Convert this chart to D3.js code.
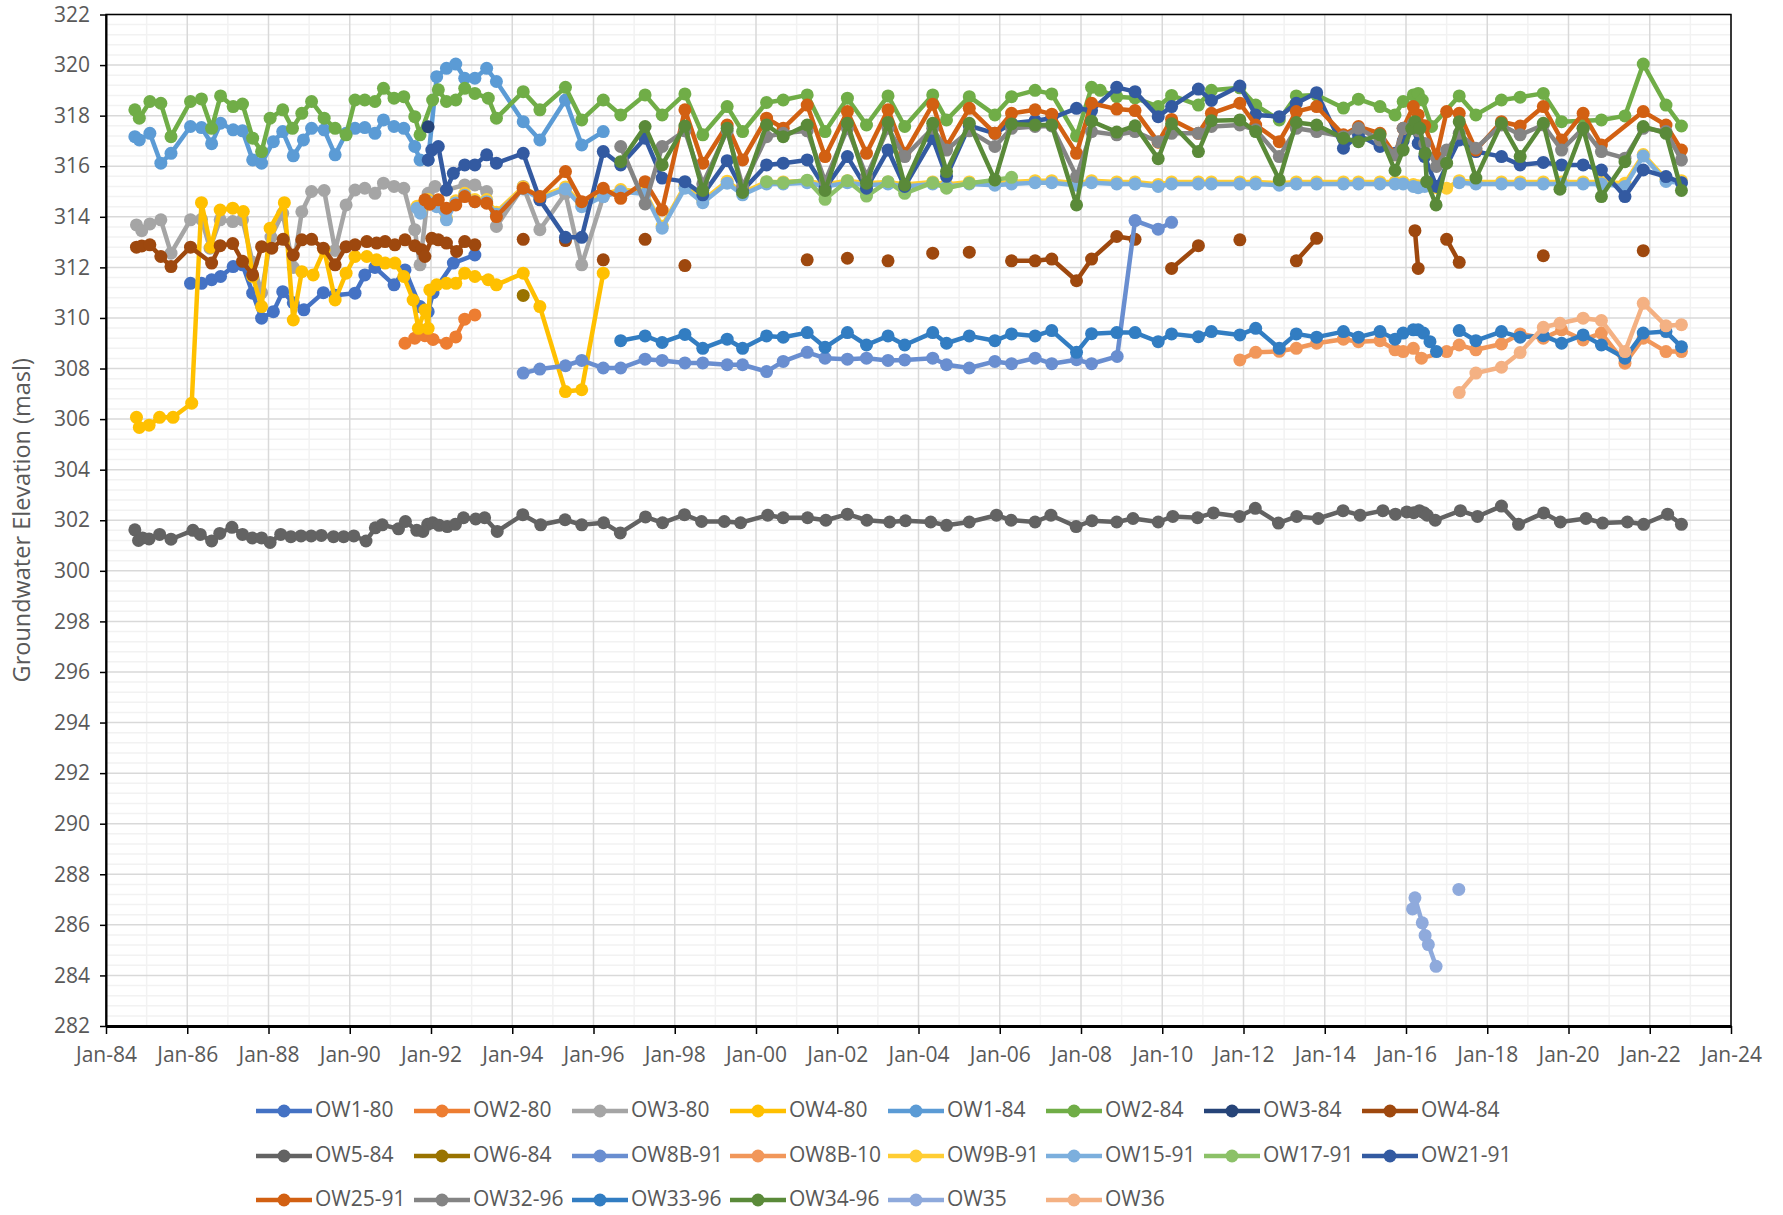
<!DOCTYPE html>
<html>
<head>
<meta charset="utf-8">
<script src="https://cdn.jsdelivr.net/npm/d3@7"></script>
<style>
  body { margin: 0; background: #fff; }
  text { font-family: "Open Sans", sans-serif; fill: #595959; }
</style>
</head>
<body>
<svg id="chart"></svg>
<script>
// values: [decimal year, masl]; null value = gap in the line
const ow1_80 = [[1986.08,311.37],[1986.35,311.37],[1986.60,311.51],[1986.82,311.64],[1987.13,312.03],[1987.36,312.1],[1987.61,310.98],[1987.83,309.99],[1988.12,310.25],[1988.35,311.04],[1988.61,310.6],[1988.87,310.32],[1989.35,311.0],[1989.64,310.9],[1990.13,310.98],[1990.37,311.70],[1990.62,312.0],[1991.09,311.31],[1991.36,311.9],[1991.73,310.45],[1991.93,310.25],[1992.05,311.0],[1992.55,312.17],[1993.08,312.49]]
const ow2_80 = [[1991.36,309.0],[1991.60,309.2],[1991.85,309.3],[1992.05,309.15],[1992.38,309.0],[1992.61,309.25],[1992.83,309.95],[1993.08,310.12]]
const ow3_80 = [[1984.75,313.68],[1984.88,313.45],[1985.08,313.72],[1985.35,313.88],[1985.60,312.56],[1986.08,313.88],[1986.35,313.9],[1986.56,312.76],[1986.81,313.88],[1987.12,313.81],[1987.36,313.88],[1987.61,312.2],[1987.83,311.0],[1988.06,313.2],[1988.35,314.14],[1988.61,312.0],[1988.82,314.2],[1989.06,315.0],[1989.37,315.04],[1989.64,312.67],[1989.91,314.47],[1990.13,315.06],[1990.37,315.13],[1990.62,314.93],[1990.83,315.33],[1991.09,315.20],[1991.33,315.13],[1991.60,313.49],[1991.73,312.10],[1991.93,314.93],[1992.10,315.20],[1992.38,315.06],[1992.83,315.26],[1993.08,315.26],[1993.37,315.0],[1993.61,313.62],[1994.27,315.2],[1994.68,313.49],[1995.31,314.93],[1995.71,312.10],[1996.24,314.8]]
const ow4_80 = [[1984.75,306.07],[1984.82,305.67],[1985.06,305.76],[1985.32,306.07],[1985.65,306.07],[1986.11,306.63],[1986.35,314.56],[1986.58,312.8],[1986.81,314.27],[1987.12,314.34],[1987.38,314.21],[1987.61,311.64],[1987.83,310.45],[1988.04,313.55],[1988.39,314.56],[1988.61,309.92],[1988.82,311.83],[1989.10,311.70],[1989.37,312.69],[1989.64,310.71],[1989.91,311.77],[1990.13,312.43],[1990.42,312.43],[1990.66,312.30],[1990.87,312.17],[1991.11,312.17],[1991.33,311.64],[1991.56,310.71],[1991.69,309.59],[1991.85,310.31],[1991.93,309.59],[1991.97,311.11],[1992.14,311.31],[1992.38,311.37],[1992.61,311.37],[1992.83,311.77],[1993.08,311.64],[1993.41,311.51],[1993.61,311.31],[1994.27,311.77],[1994.68,310.45],[1995.31,307.09],[1995.71,307.16],[1996.24,311.77]]
const ow1_84 = [[1984.71,317.17],[1984.82,317.04],[1985.08,317.30],[1985.35,316.12],[1985.60,316.51],[1986.08,317.57],[1986.35,317.53],[1986.60,316.89],[1986.82,317.70],[1987.13,317.44],[1987.36,317.40],[1987.61,316.25],[1987.83,316.12],[1988.12,316.97],[1988.35,317.37],[1988.61,316.41],[1988.86,317.04],[1989.06,317.50],[1989.37,317.44],[1989.64,316.45],[1989.91,317.30],[1990.13,317.50],[1990.37,317.53],[1990.62,317.30],[1990.83,317.83],[1991.09,317.57],[1991.33,317.50],[1991.60,316.78],[1991.73,316.25],[1991.93,316.25],[1992.14,319.54],[1992.38,319.87],[1992.61,320.04],[1992.83,319.48],[1993.08,319.48],[1993.37,319.87],[1993.61,319.35],[1994.27,317.76],[1994.68,317.04],[1995.31,318.62],[1995.71,316.84],[1996.24,317.37]]
const ow2_84 = [[1984.71,318.23],[1984.82,317.90],[1985.08,318.56],[1985.35,318.49],[1985.60,317.17],[1986.08,318.56],[1986.35,318.66],[1986.60,317.50],[1986.82,318.78],[1987.13,318.36],[1987.36,318.46],[1987.61,317.11],[1987.83,316.58],[1988.04,317.90],[1988.35,318.23],[1988.59,317.50],[1988.82,318.09],[1989.06,318.56],[1989.37,317.90],[1989.64,317.50],[1989.91,317.24],[1990.13,318.62],[1990.37,318.62],[1990.62,318.56],[1990.83,319.08],[1991.09,318.69],[1991.33,318.75],[1991.60,317.96],[1991.73,317.24],[1992.04,318.62],[1992.18,319.02],[1992.38,318.56],[1992.61,318.62],[1992.83,319.08],[1993.08,318.88],[1993.41,318.69],[1993.61,317.90],[1994.27,318.95],[1994.68,318.23],[1995.31,319.12],[1995.71,317.83],[1996.24,318.62],[1996.67,318.03],[1997.27,318.82],[1997.69,318.03],[1998.25,318.86],[1998.69,317.24],[1999.29,318.36],[1999.67,317.37],[2000.26,318.52],[2000.67,318.62],[2001.26,318.82],[2001.70,317.37],[2002.25,318.69],[2002.72,317.63],[2003.25,318.78],[2003.66,317.57],[2004.35,318.82],[2004.69,317.83],[2005.25,318.75],[2005.88,318.03],[2006.29,318.75],[2006.87,319.0],[2007.28,318.86],[2007.89,317.2],[2008.26,319.12],[2008.47,319.0],[2008.88,318.75],[2009.33,318.7],[2009.90,318.36],[2010.23,318.8],[2010.89,318.42],[2011.21,319.0],[2011.91,319.1],[2012.30,318.42],[2012.88,317.83],[2013.30,318.78],[2013.80,318.82],[2014.46,318.3],[2014.83,318.65],[2015.36,318.36],[2015.73,318.03],[2015.93,318.56],[2016.18,318.82],[2016.30,318.88],[2016.40,318.62],[2016.63,317.57],[2017.31,318.78],[2017.72,318.03],[2018.35,318.62],[2018.81,318.73],[2019.38,318.88],[2019.83,317.76],[2020.81,317.83],[2021.39,317.99],[2021.84,320.04],[2022.40,318.42],[2022.78,317.59]]
const ow3_84 = [[1991.93,317.56]]
const ow4_84 = [[1984.75,312.80],[1984.88,312.85],[1985.08,312.89],[1985.35,312.43],[1985.60,312.03],[1986.08,312.80],[1986.60,312.17],[1986.81,312.86],[1987.12,312.94],[1987.36,312.24],[1987.61,311.70],[1987.83,312.82],[1988.08,312.76],[1988.36,313.11],[1988.61,312.49],[1988.82,313.09],[1989.06,313.11],[1989.35,312.76],[1989.64,312.10],[1989.91,312.82],[1990.13,312.89],[1990.42,313.02],[1990.66,312.96],[1990.87,313.02],[1991.11,312.89],[1991.36,313.09],[1991.60,312.86],[1991.77,312.70],[1991.85,312.43],[1992.02,313.15],[1992.18,313.09],[1992.38,312.96],[1992.63,312.63],[1992.83,313.02],[1993.08,312.89],[1993.7,null],[1994.27,313.11],[1994.7,null],[1995.31,313.06],[1995.7,null],[1996.24,312.30],[1996.7,null],[1997.27,313.11],[1997.7,null],[1998.25,312.07],[1998.7,null],[2001.26,312.30],[2001.7,null],[2002.25,312.36],[2002.7,null],[2003.25,312.26],[2003.7,null],[2004.35,312.56],[2004.7,null],[2005.25,312.60],[2005.9,null],[2006.29,312.26],[2006.87,312.26],[2007.28,312.33],[2007.89,311.47],[2008.26,312.33],[2008.88,313.22],[2009.33,313.11],[2009.9,null],[2010.23,311.96],[2010.89,312.86],[2011.2,null],[2011.91,313.09],[2012.3,null],[2013.30,312.26],[2013.80,313.15],[2014.5,null],[2016.22,313.45],[2016.30,311.96],[2016.7,null],[2017.00,313.11],[2017.31,312.20],[2017.7,null],[2019.38,312.46],[2019.8,null],[2021.84,312.66]]
const ow5_84 = [[1984.71,301.62],[1984.8,301.2],[1984.9,301.3],[1985.06,301.26],[1985.32,301.44],[1985.6,301.25],[1986.14,301.6],[1986.32,301.44],[1986.6,301.18],[1986.8,301.48],[1987.1,301.72],[1987.36,301.44],[1987.6,301.3],[1987.83,301.3],[1988.04,301.12],[1988.3,301.44],[1988.55,301.35],[1988.8,301.38],[1989.05,301.38],[1989.3,301.4],[1989.6,301.35],[1989.85,301.35],[1990.1,301.38],[1990.4,301.18],[1990.63,301.7],[1990.8,301.82],[1991.2,301.66],[1991.37,301.95],[1991.65,301.6],[1991.8,301.56],[1991.92,301.84],[1992.04,301.9],[1992.2,301.8],[1992.4,301.75],[1992.6,301.84],[1992.8,302.1],[1993.1,302.05],[1993.32,302.1],[1993.63,301.56],[1994.26,302.22],[1994.7,301.82],[1995.3,302.02],[1995.71,301.82],[1996.25,301.9],[1996.66,301.5],[1997.28,302.13],[1997.7,301.9],[1998.24,302.22],[1998.66,301.95],[1999.22,301.95],[1999.62,301.9],[2000.29,302.2],[2000.67,302.1],[2001.27,302.1],[2001.72,302.0],[2002.25,302.24],[2002.73,302.0],[2003.29,301.93],[2003.68,301.98],[2004.3,301.93],[2004.69,301.8],[2005.25,301.93],[2005.92,302.2],[2006.28,302.0],[2006.87,301.93],[2007.26,302.2],[2007.88,301.75],[2008.27,301.98],[2008.88,301.93],[2009.28,302.07],[2009.9,301.93],[2010.26,302.15],[2010.87,302.1],[2011.26,302.29],[2011.9,302.15],[2012.29,302.47],[2012.86,301.89],[2013.31,302.15],[2013.84,302.07],[2014.45,302.38],[2014.87,302.2],[2015.43,302.38],[2015.74,302.24],[2016.02,302.33],[2016.19,302.3],[2016.33,302.38],[2016.44,302.3],[2016.52,302.2],[2016.72,302.0],[2017.34,302.38],[2017.76,302.15],[2018.35,302.56],[2018.77,301.84],[2019.39,302.29],[2019.8,301.93],[2020.43,302.07],[2020.84,301.89],[2021.45,301.93],[2021.85,301.84],[2022.44,302.24],[2022.78,301.84]]
const ow6_84 = [[1994.27,310.89]]
const ow8b_91 = [[1994.27,307.82],[1994.68,307.98],[1995.31,308.11],[1995.71,308.32],[1996.24,308.02],[1996.67,308.02],[1997.27,308.37],[1997.69,308.32],[1998.25,308.22],[1998.69,308.22],[1999.29,308.15],[1999.67,308.15],[2000.26,307.88],[2000.67,308.28],[2001.26,308.64],[2001.70,308.41],[2002.25,308.37],[2002.72,308.41],[2003.25,308.32],[2003.66,308.34],[2004.35,308.41],[2004.69,308.15],[2005.25,308.02],[2005.88,308.28],[2006.29,308.19],[2006.87,308.41],[2007.28,308.19],[2007.89,308.35],[2008.26,308.19],[2008.89,308.48],[2009.33,313.85],[2009.90,313.51],[2010.23,313.78]]
const ow8b_10 = [[2011.91,308.34],[2012.30,308.64],[2012.88,308.68],[2013.30,308.80],[2013.80,309.0],[2014.46,309.16],[2014.83,309.06],[2015.36,309.10],[2015.73,308.74],[2015.93,308.67],[2016.18,308.8],[2016.38,308.41],[2017.00,308.67],[2017.31,308.93],[2017.72,308.74],[2018.35,308.97],[2018.81,309.37],[2019.38,309.20],[2019.83,309.53],[2020.36,309.13],[2020.81,309.40],[2021.39,308.21],[2021.84,309.20],[2022.40,308.67],[2022.78,308.67]]
const ow9b_91 = [[1991.66,314.42],[1991.74,314.22],[1991.93,314.68],[1992.14,314.48],[1992.38,313.96],[1992.61,314.63],[1992.83,314.93],[1993.08,314.68],[1993.37,314.68],[1993.61,314.18],[1994.27,315.18],[1994.68,314.78],[1995.31,315.18],[1995.71,314.48],[1996.24,314.88],[1996.67,315.08],[1997.27,314.98],[1997.69,313.63],[1998.25,315.21],[1998.69,314.64],[1999.29,315.41],[1999.67,314.95],[2000.26,315.38],[2000.67,315.38],[2001.26,315.43],[2001.70,315.28],[2002.25,315.43],[2002.72,315.33],[2003.25,315.38],[2003.66,315.28],[2004.35,315.38],[2004.69,315.28],[2005.25,315.38],[2005.88,315.33],[2006.29,315.38],[2006.87,315.43],[2007.28,315.43],[2007.89,315.33],[2008.26,315.43],[2008.88,315.38],[2009.33,315.38],[2009.90,315.28],[2010.23,315.38],[2010.89,315.38],[2011.21,315.38],[2011.91,315.38],[2012.30,315.38],[2012.88,315.33],[2013.30,315.38],[2013.80,315.38],[2014.46,315.38],[2014.83,315.38],[2015.36,315.38],[2015.73,315.38],[2015.93,315.38],[2016.18,315.28],[2016.30,315.23],[2016.46,315.28],[2016.75,315.15],[2017.00,315.13],[2017.31,315.43],[2017.72,315.38],[2018.35,315.38],[2018.81,315.38],[2019.38,315.38],[2019.83,315.38],[2020.36,315.38],[2020.81,315.38],[2021.39,315.33],[2021.84,316.46],[2022.40,315.48],[2022.78,315.43]]
const ow15_91 = [[1991.66,314.34],[1991.74,314.14],[1991.93,314.6],[1992.14,314.4],[1992.38,313.88],[1992.61,314.55],[1992.83,314.85],[1993.08,314.6],[1993.37,314.6],[1993.61,314.1],[1994.27,315.1],[1994.68,314.7],[1995.31,315.1],[1995.71,314.4],[1996.24,314.8],[1996.67,315.0],[1997.27,314.9],[1997.69,313.55],[1998.25,315.13],[1998.69,314.56],[1999.29,315.33],[1999.67,314.87],[2000.26,315.3],[2000.67,315.3],[2001.26,315.35],[2001.70,315.2],[2002.25,315.35],[2002.72,315.25],[2003.25,315.3],[2003.66,315.2],[2004.35,315.3],[2004.69,315.2],[2005.25,315.3],[2005.88,315.25],[2006.29,315.3],[2006.87,315.35],[2007.28,315.35],[2007.89,315.25],[2008.26,315.35],[2008.88,315.3],[2009.33,315.3],[2009.90,315.2],[2010.23,315.3],[2010.89,315.3],[2011.21,315.3],[2011.91,315.3],[2012.30,315.3],[2012.88,315.25],[2013.30,315.3],[2013.80,315.3],[2014.46,315.3],[2014.83,315.3],[2015.36,315.3],[2015.73,315.3],[2015.93,315.3],[2016.18,315.2],[2016.30,315.15],[2016.46,315.2],[2016.75,null],[2017.31,315.35],[2017.72,315.3],[2018.35,315.3],[2018.81,315.3],[2019.38,315.3],[2019.83,315.3],[2020.36,315.3],[2020.81,315.3],[2021.39,315.2],[2021.84,316.4],[2022.40,315.4],[2022.78,315.35]]
const ow17_91 = [[2000.26,315.39],[2000.67,315.35],[2001.26,315.45],[2001.70,314.69],[2002.25,315.43],[2002.72,314.82],[2003.25,315.39],[2003.66,314.93],[2004.35,315.35],[2004.69,315.13],[2005.25,315.33],[2005.88,315.46],[2006.29,315.56]]
const ow21_91 = [[1991.93,316.25],[1992.02,316.64],[1992.18,316.78],[1992.38,315.06],[1992.55,315.72],[1992.83,316.05],[1993.08,316.05],[1993.37,316.45],[1993.61,316.12],[1994.27,316.51],[1994.68,314.67],[1995.31,313.19],[1995.71,313.19],[1996.24,316.58],[1996.67,316.05],[1997.27,317.11],[1997.69,315.53],[1998.25,315.39],[1998.69,314.87],[1999.29,316.22],[1999.67,315.04],[2000.26,316.05],[2000.67,316.12],[2001.26,316.25],[2001.70,315.13],[2002.25,316.38],[2002.72,315.13],[2003.25,316.64],[2003.66,315.20],[2004.35,317.1],[2004.69,315.6],[2005.25,317.6],[2005.88,317.3],[2006.29,317.7],[2006.87,317.8],[2007.28,317.9],[2007.89,318.29],[2008.26,318.2],[2008.88,319.12],[2009.33,318.95],[2009.90,317.96],[2010.23,318.36],[2010.89,319.05],[2011.21,318.6],[2011.91,319.17],[2012.30,318.03],[2012.88,317.96],[2013.30,318.49],[2013.80,318.91],[2014.46,316.71],[2014.83,317.24],[2015.36,316.78],[2015.73,316.51],[2015.93,317.0],[2016.18,317.5],[2016.30,316.9],[2016.46,316.38],[2016.75,315.2],[2017.31,317.04],[2017.72,316.58],[2018.35,316.38],[2018.81,316.05],[2019.38,316.15],[2019.83,316.05],[2020.36,316.05],[2020.81,315.85],[2021.39,314.80],[2021.84,315.85],[2022.40,315.59],[2022.78,315.35]]
const ow25_91 = [[1991.85,314.67],[1991.97,314.5],[1992.18,314.67],[1992.38,314.34],[1992.61,314.47],[1992.83,314.80],[1993.08,314.60],[1993.37,314.54],[1993.61,314.01],[1994.27,315.13],[1994.68,314.80],[1995.31,315.79],[1995.71,314.60],[1996.24,315.13],[1996.67,314.73],[1997.27,315.39],[1997.69,314.27],[1998.25,318.23],[1998.69,316.12],[1999.29,317.63],[1999.67,316.25],[2000.26,317.90],[2000.67,317.5],[2001.26,318.42],[2001.70,316.38],[2002.25,318.16],[2002.72,316.51],[2003.25,318.23],[2003.66,316.51],[2004.35,318.45],[2004.69,316.78],[2005.25,318.29],[2005.88,317.30],[2006.29,318.09],[2006.87,318.23],[2007.28,318.06],[2007.89,316.51],[2008.26,318.49],[2008.88,318.26],[2009.33,318.2],[2009.90,316.95],[2010.23,317.85],[2010.89,317.3],[2011.21,318.09],[2011.91,318.49],[2012.30,317.63],[2012.88,316.97],[2013.30,318.16],[2013.80,318.36],[2014.46,317.24],[2014.83,317.57],[2015.36,317.30],[2015.73,316.45],[2015.93,317.50],[2016.18,318.36],[2016.30,318.03],[2016.46,317.6],[2016.75,316.38],[2017.00,318.16],[2017.31,318.09],[2017.72,316.64],[2018.35,317.76],[2018.81,317.59],[2019.38,318.36],[2019.83,317.04],[2020.36,318.09],[2020.81,316.84],[2021.84,318.16],[2022.40,317.63],[2022.78,316.64]]
const ow32_96 = [[1996.67,316.78],[1997.27,314.51],[1997.69,316.78],[1998.25,317.4],[1998.69,315.3],[1999.29,317.4],[1999.67,315.2],[2000.26,317.17],[2000.67,317.3],[2001.26,317.4],[2001.70,315.4],[2002.25,317.5],[2002.72,315.6],[2003.25,317.5],[2003.66,316.38],[2004.35,317.50],[2004.69,316.64],[2005.25,317.4],[2005.88,316.78],[2006.29,317.50],[2006.87,317.57],[2007.28,317.59],[2007.89,315.59],[2008.26,317.37],[2008.88,317.24],[2009.33,317.37],[2009.90,316.97],[2010.23,317.30],[2010.89,317.30],[2011.21,317.57],[2011.91,317.63],[2012.30,317.44],[2012.88,316.38],[2013.30,317.50],[2013.80,317.37],[2014.46,317.17],[2014.83,317.50],[2015.36,317.04],[2015.73,316.45],[2015.93,317.50],[2016.18,317.70],[2016.30,317.4],[2016.46,316.9],[2016.75,315.99],[2017.00,316.64],[2017.31,317.30],[2017.72,316.71],[2018.35,317.63],[2018.81,317.24],[2019.38,317.63],[2019.83,316.64],[2020.36,317.50],[2020.81,316.58],[2021.39,316.32],[2021.84,317.50],[2022.40,317.37],[2022.78,316.25]]
const ow33_96 = [[1996.67,309.10],[1997.27,309.29],[1997.69,309.03],[1998.25,309.35],[1998.69,308.80],[1999.29,309.16],[1999.67,308.80],[2000.26,309.29],[2000.67,309.24],[2001.26,309.42],[2001.70,308.84],[2002.25,309.42],[2002.72,308.93],[2003.25,309.29],[2003.66,308.93],[2004.35,309.42],[2004.69,309.0],[2005.25,309.29],[2005.88,309.10],[2006.29,309.37],[2006.87,309.29],[2007.28,309.50],[2007.89,308.64],[2008.26,309.38],[2008.88,309.42],[2009.33,309.42],[2009.90,309.06],[2010.23,309.37],[2010.89,309.26],[2011.21,309.46],[2011.91,309.33],[2012.30,309.59],[2012.88,308.80],[2013.30,309.37],[2013.80,309.24],[2014.46,309.46],[2014.83,309.24],[2015.36,309.46],[2015.73,309.16],[2015.93,309.40],[2016.18,309.53],[2016.30,309.53],[2016.43,309.40],[2016.59,309.06],[2016.75,308.67],[2017.0,null],[2017.31,309.50],[2017.72,309.10],[2018.35,309.46],[2018.81,309.24],[2019.38,309.3],[2019.83,309.0],[2020.36,309.33],[2020.81,308.93],[2021.39,308.41],[2021.84,309.40],[2022.40,309.46],[2022.78,308.86]]
const ow34_96 = [[1996.67,316.18],[1997.27,317.57],[1997.69,316.05],[1998.25,317.59],[1998.69,315.04],[1999.29,317.50],[1999.67,314.96],[2000.26,317.63],[2000.67,317.17],[2001.26,317.63],[2001.70,315.04],[2002.25,317.70],[2002.72,315.33],[2003.25,317.73],[2003.66,315.26],[2004.35,317.70],[2004.69,315.79],[2005.25,317.70],[2005.88,315.46],[2006.29,317.67],[2006.87,317.63],[2007.28,317.63],[2007.89,314.47],[2008.26,317.78],[2008.88,317.35],[2009.33,317.6],[2009.90,316.3],[2010.23,317.68],[2010.89,316.58],[2011.21,317.8],[2011.91,317.83],[2012.30,317.37],[2012.88,315.46],[2013.30,317.73],[2013.80,317.63],[2014.46,317.11],[2014.83,316.97],[2015.36,317.24],[2015.73,315.83],[2015.93,316.64],[2016.14,317.50],[2016.22,317.76],[2016.34,317.50],[2016.47,316.51],[2016.51,315.39],[2016.74,314.47],[2017.00,316.12],[2017.31,317.76],[2017.72,315.53],[2018.35,317.70],[2018.81,316.38],[2019.38,317.70],[2019.79,315.09],[2020.36,317.50],[2020.81,314.80],[2021.39,316.18],[2021.84,317.57],[2022.40,317.30],[2022.78,315.04]]
const ow35 = [[2016.16,286.63],[2016.22,287.07],[2016.40,286.08],[2016.47,285.58],[2016.55,285.22],[2016.74,284.36],[2017.0,null],[2017.30,287.40]]
const ow36 = [[2017.31,307.05],[2017.72,307.82],[2018.35,308.05],[2018.81,308.63],[2019.38,309.63],[2019.79,309.79],[2020.36,309.99],[2020.81,309.90],[2021.39,308.67],[2021.84,310.58],[2022.40,309.69],[2022.78,309.73]]

const seriesNames = ['OW1-80','OW2-80','OW3-80','OW4-80','OW1-84','OW2-84','OW3-84','OW4-84',
  'OW5-84','OW6-84','OW8B-91','OW8B-10','OW9B-91','OW15-91','OW17-91','OW21-91',
  'OW25-91','OW32-96','OW33-96','OW34-96','OW35','OW36']
const seriesColors = ['#4472C4','#ED7D31','#A5A5A5','#FFC000','#5B9BD5','#70AD47','#264478','#9E480E',
  '#636363','#997300','#698ED0','#F1975A','#FFCD33','#7CAFDD','#8CC168','#335AA1',
  '#D26012','#848484','#327DC2','#5A8A39','#8FAADC','#F4B183']
const seriesData = [ow1_80, ow2_80, ow3_80, ow4_80, ow1_84, ow2_84, ow3_84, ow4_84,
  ow5_84, ow6_84, ow8b_91, ow8b_10, ow9b_91, ow15_91, ow17_91, ow21_91,
  ow25_91, ow32_96, ow33_96, ow34_96, ow35, ow36]

const yearTicks = [1984,1986,1988,1990,1992,1994,1996,1998,2000,2002,2004,2006,2008,2010,2012,2014,2016,2018,2020,2022,2024]
const xTickLabels = ['Jan-84','Jan-86','Jan-88','Jan-90','Jan-92','Jan-94','Jan-96','Jan-98','Jan-00','Jan-02','Jan-04',
  'Jan-06','Jan-08','Jan-10','Jan-12','Jan-14','Jan-16','Jan-18','Jan-20','Jan-22','Jan-24']
const yTicks = d3.range(282, 323, 2)

const width = 1783, height = 1215
const margin = { top: 14.5, right: 52, bottom: 189, left: 106 }

const svg = d3.select('#chart').attr('width', width).attr('height', height)

const x = d3.scaleLinear().domain([1984, 2024]).range([margin.left, width - margin.right])
const y = d3.scaleLinear().domain([282, 322]).range([height - margin.bottom, margin.top])

// gridlines: minor every 0.4 m / 1 year, major every 2
const grid = svg.append('g')
const minorY = d3.range(1, 100).filter(i => i % 5 != 0).map(i => 282 + i * 0.4)
const minorX = d3.range(1985, 2024, 2)
grid.selectAll('.my').data(minorY).join('line')
  .attr('x1', x(1984)).attr('x2', x(2024)).attr('y1', d => y(d)).attr('y2', d => y(d))
  .attr('stroke', '#f2f2f2').attr('stroke-width', 1.5)
grid.selectAll('.mx').data(minorX).join('line')
  .attr('x1', d => x(d)).attr('x2', d => x(d)).attr('y1', y(282)).attr('y2', y(322))
  .attr('stroke', '#f2f2f2').attr('stroke-width', 1.5)
grid.selectAll('.gy').data(yTicks).join('line')
  .attr('x1', x(1984)).attr('x2', x(2024)).attr('y1', d => y(d)).attr('y2', d => y(d))
  .attr('stroke', '#d9d9d9').attr('stroke-width', 1.5)
grid.selectAll('.gx').data(yearTicks).join('line')
  .attr('x1', d => x(d)).attr('x2', d => x(d)).attr('y1', y(282)).attr('y2', y(322))
  .attr('stroke', '#d9d9d9').attr('stroke-width', 1.5)

// plot frame
svg.append('rect')
  .attr('x', x(1984)).attr('y', y(322))
  .attr('width', x(2024) - x(1984)).attr('height', y(282) - y(322))
  .attr('fill', 'none').attr('stroke', '#000').attr('stroke-width', 1.5)

// series, first one at the bottom like excel
const line = d3.line()
  .defined(d => d[1] != null)
  .x(d => x(d[0]))
  .y(d => y(d[1]))

seriesData.forEach((data, i) => {
  const g = svg.append('g')
  g.append('path')
    .datum(data)
    .attr('fill', 'none')
    .attr('stroke', seriesColors[i])
    .attr('stroke-width', 4.5)
    .attr('stroke-linejoin', 'round')
    .attr('d', line)
  g.selectAll('circle')
    .data(data.filter(d => d[1] != null))
    .join('circle')
    .attr('cx', d => x(d[0]))
    .attr('cy', d => y(d[1]))
    .attr('r', 6.5)
    .attr('fill', seriesColors[i])
})

// axes
const xAxis = svg.append('g')
  .attr('transform', `translate(0,${y(282)})`)
  .call(d3.axisBottom(x).tickValues(yearTicks).tickFormat((d, i) => xTickLabels[i]).tickSize(8).tickSizeOuter(0).tickPadding(13))
xAxis.select('.domain').attr('stroke', '#000').attr('stroke-width', 3)
xAxis.selectAll('.tick line').attr('stroke', '#000').attr('stroke-width', 1.5)
xAxis.selectAll('text').attr('font-size', 21).attr('font-family', '"Open Sans", sans-serif').attr('fill', '#595959')

const yAxis = svg.append('g')
  .attr('transform', `translate(${x(1984)},0)`)
  .call(d3.axisLeft(y).tickValues(yTicks).tickSize(6).tickSizeOuter(0).tickPadding(10))
yAxis.select('.domain').attr('stroke', '#000').attr('stroke-width', 2)
yAxis.selectAll('.tick line').attr('stroke', '#000').attr('stroke-width', 1.5)
yAxis.selectAll('text').attr('font-size', 21).attr('font-family', '"Open Sans", sans-serif').attr('fill', '#595959')

svg.append('text')
  .attr('transform', `translate(24,${(y(282) + y(322)) / 2}) rotate(-90)`)
  .attr('text-anchor', 'middle')
  .attr('dominant-baseline', 'middle')
  .attr('font-size', 23.5)
  .text('Groundwater Elevation (masl)')

// legend, 8 per row
const legend = svg.append('g')
const rowY = [1111, 1156, 1200]
seriesNames.forEach((name, i) => {
  const lx = 256 + (i % 8) * 158
  const ly = rowY[Math.floor(i / 8)]
  const item = legend.append('g')
  item.append('line')
    .attr('x1', lx).attr('x2', lx + 56).attr('y1', ly).attr('y2', ly)
    .attr('stroke', seriesColors[i]).attr('stroke-width', 4.5)
  item.append('circle')
    .attr('cx', lx + 28).attr('cy', ly).attr('r', 6.5)
    .attr('fill', seriesColors[i])
  item.append('text')
    .attr('x', lx + 59).attr('y', ly)
    .attr('dominant-baseline', 'middle')
    .attr('font-size', 21)
    .text(name)
})
</script>
</body>
</html>
